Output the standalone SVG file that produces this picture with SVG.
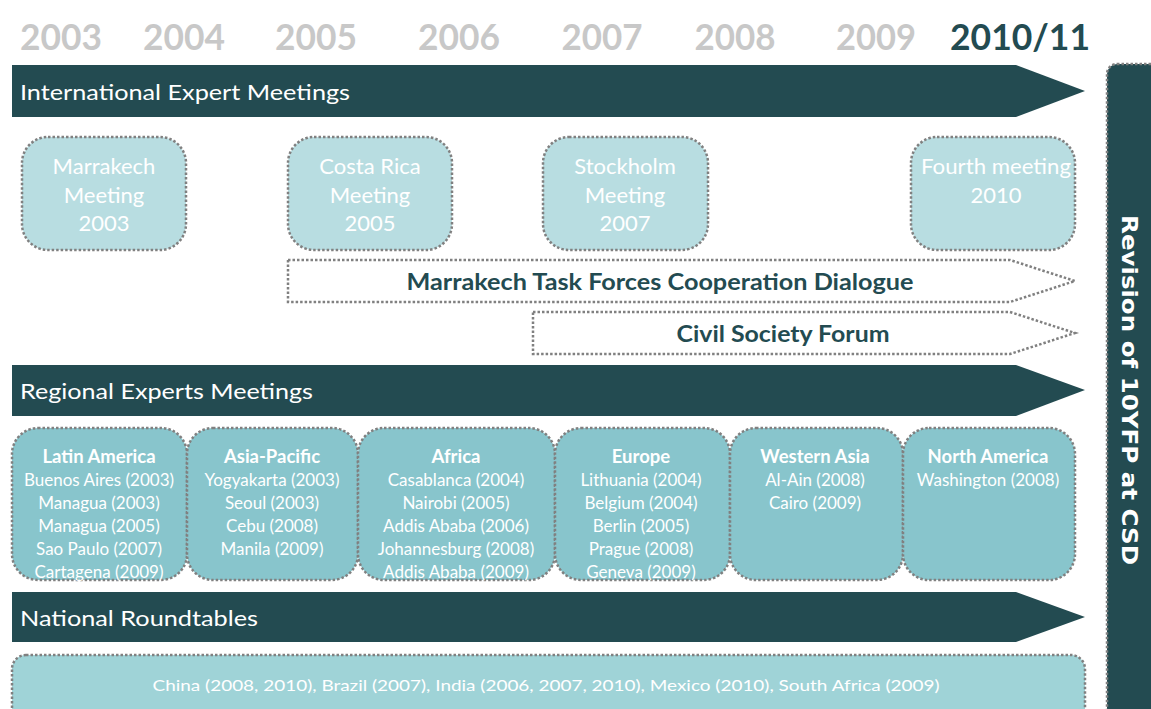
<svg xmlns="http://www.w3.org/2000/svg" width="1151" height="709" viewBox="0 0 1151 709">
<style>
.yr{font-family:Lato,"Liberation Sans",sans-serif;font-weight:bold;font-size:37px;fill:#c8c8c8;text-anchor:middle}
.band{fill:#234b51}
.bandt{font-family:Lato,"Liberation Sans",sans-serif;font-size:22px;fill:#ffffff}
.mbox{fill:#b8dde1;stroke:#808080;stroke-width:2.5;stroke-dasharray:2.5 2}
.mt{font-family:Lato,"Liberation Sans",sans-serif;font-size:22px;fill:#ffffff;text-anchor:middle}
.darr{fill:#ffffff;stroke:#808080;stroke-width:2.5;stroke-dasharray:2.5 2}
.dt{font-family:Lato,"Liberation Sans",sans-serif;font-weight:bold;font-size:22px;fill:#234b51;text-anchor:middle}
.rbox{fill:#88c5cc;stroke:#808080;stroke-width:2.5;stroke-dasharray:2.5 2}
.rh{font-family:Lato,"Liberation Sans",sans-serif;font-weight:bold;font-size:18.5px;fill:#ffffff;text-anchor:middle}
.rt{font-family:Lato,"Liberation Sans",sans-serif;font-size:17px;fill:#ffffff;text-anchor:middle}
.nt{font-family:Lato,"Liberation Sans",sans-serif;font-size:16px;fill:#ffffff;text-anchor:middle}
.nbox{fill:#9fd3d7;stroke:#808080;stroke-width:2.5;stroke-dasharray:2.5 2}
</style>
<rect width="1151" height="709" fill="#ffffff"/>
<g id="years">
<text class="yr" x="61" y="50" textLength="82" lengthAdjust="spacingAndGlyphs">2003</text>
<text class="yr" x="184" y="50" textLength="82" lengthAdjust="spacingAndGlyphs">2004</text>
<text class="yr" x="316" y="50" textLength="82" lengthAdjust="spacingAndGlyphs">2005</text>
<text class="yr" x="459" y="50" textLength="82" lengthAdjust="spacingAndGlyphs">2006</text>
<text class="yr" x="602" y="50" textLength="81" lengthAdjust="spacingAndGlyphs">2007</text>
<text class="yr" x="735" y="50" textLength="81" lengthAdjust="spacingAndGlyphs">2008</text>
<text class="yr" x="876" y="50" textLength="80" lengthAdjust="spacingAndGlyphs">2009</text>
<text class="yr" x="1020" y="50" textLength="140" lengthAdjust="spacingAndGlyphs" style="fill:#234b51">2010/11</text>
</g>
<g id="band-international">
<polygon class="band" points="12,65 1016,65 1085,91 1016,117 12,117"/>
<text class="bandt" x="20" y="100" textLength="330" lengthAdjust="spacingAndGlyphs">International Expert Meetings</text>
</g>
<g id="meeting-marrakech">
<rect class="mbox" x="22" y="137" width="164" height="113" rx="26"/>
<text class="mt" x="104" y="174">Marrakech</text>
<text class="mt" x="104" y="203">Meeting</text>
<text class="mt" x="104" y="231">2003</text>
</g>
<g id="meeting-costarica">
<rect class="mbox" x="288" y="137" width="164" height="113" rx="26"/>
<text class="mt" x="370" y="174">Costa Rica</text>
<text class="mt" x="370" y="203">Meeting</text>
<text class="mt" x="370" y="231">2005</text>
</g>
<g id="meeting-stockholm">
<rect class="mbox" x="543" y="137" width="165" height="113" rx="26"/>
<text class="mt" x="625" y="174">Stockholm</text>
<text class="mt" x="625" y="203">Meeting</text>
<text class="mt" x="625" y="231">2007</text>
</g>
<g id="meeting-fourth">
<rect class="mbox" x="911" y="137" width="164" height="113" rx="26"/>
<text class="mt" x="996" y="174" textLength="150" lengthAdjust="spacingAndGlyphs">Fourth meeting</text>
<text class="mt" x="996" y="203">2010</text>
</g>
<g id="mtf-dialogue">
<polygon class="darr" points="288,260 1010,260 1075,281 1010,302 288,302"/>
<text class="dt" x="660" y="290" textLength="507" lengthAdjust="spacingAndGlyphs">Marrakech Task Forces Cooperation Dialogue</text>
</g>
<g id="civil-society">
<polygon class="darr" points="533,312 1010,312 1075,333 1010,354 533,354"/>
<text class="dt" x="783" y="342" textLength="213" lengthAdjust="spacingAndGlyphs">Civil Society Forum</text>
</g>
<g id="band-regional">
<polygon class="band" points="12,365 1016,365 1085,390 1016,416 12,416"/>
<text class="bandt" x="20" y="399" textLength="293" lengthAdjust="spacingAndGlyphs">Regional Experts Meetings</text>
</g>
<g id="region-latin-america">
<rect class="rbox" x="12" y="428" width="175" height="152" rx="26"/>
<text class="rh" x="99" y="463">Latin America</text>
<text class="rt" x="99" y="486">Buenos Aires (2003)</text>
<text class="rt" x="99" y="509">Managua (2003)</text>
<text class="rt" x="99" y="532">Managua (2005)</text>
<text class="rt" x="99" y="555">Sao Paulo (2007)</text>
<text class="rt" x="99" y="578">Cartagena (2009)</text>
</g>
<g id="region-asia-pacific">
<rect class="rbox" x="187" y="428" width="171" height="152" rx="26"/>
<text class="rh" x="272" y="463">Asia-Pacific</text>
<text class="rt" x="272" y="486">Yogyakarta (2003)</text>
<text class="rt" x="272" y="509">Seoul (2003)</text>
<text class="rt" x="272" y="532">Cebu (2008)</text>
<text class="rt" x="272" y="555">Manila (2009)</text>
</g>
<g id="region-africa">
<rect class="rbox" x="358" y="428" width="197" height="152" rx="26"/>
<text class="rh" x="456" y="463">Africa</text>
<text class="rt" x="456" y="486">Casablanca (2004)</text>
<text class="rt" x="456" y="509">Nairobi (2005)</text>
<text class="rt" x="456" y="532">Addis Ababa (2006)</text>
<text class="rt" x="456" y="555">Johannesburg (2008)</text>
<text class="rt" x="456" y="578">Addis Ababa (2009)</text>
</g>
<g id="region-europe">
<rect class="rbox" x="555" y="428" width="175" height="152" rx="26"/>
<text class="rh" x="641" y="463">Europe</text>
<text class="rt" x="641" y="486">Lithuania (2004)</text>
<text class="rt" x="641" y="509">Belgium (2004)</text>
<text class="rt" x="641" y="532">Berlin (2005)</text>
<text class="rt" x="641" y="555">Prague (2008)</text>
<text class="rt" x="641" y="578">Geneva (2009)</text>
</g>
<g id="region-western-asia">
<rect class="rbox" x="730" y="428" width="173" height="152" rx="26"/>
<text class="rh" x="815" y="463">Western Asia</text>
<text class="rt" x="815" y="486">Al-Ain (2008)</text>
<text class="rt" x="815" y="509">Cairo (2009)</text>
</g>
<g id="region-north-america">
<rect class="rbox" x="903" y="428" width="172" height="152" rx="26"/>
<text class="rh" x="988" y="463">North America</text>
<text class="rt" x="988" y="486">Washington (2008)</text>
</g>
<g id="band-national">
<polygon class="band" points="12,592 1016,592 1085,617 1016,642 12,642"/>
<text class="bandt" x="20" y="626" textLength="238" lengthAdjust="spacingAndGlyphs">National Roundtables</text>
</g>
<g id="national-roundtables">
<rect class="nbox" x="12" y="655" width="1073" height="70" rx="14"/>
<text class="nt" x="546" y="691" textLength="787" lengthAdjust="spacingAndGlyphs">China (2008, 2010), Brazil (2007), India (2006, 2007, 2010), Mexico (2010),  South Africa (2009)</text>
</g>
<g id="revision-csd">
<rect x="1107" y="64" width="60" height="660" rx="10" fill="#234b51" stroke="#808080" stroke-width="2.5" stroke-dasharray="2.5 2"/>
<text x="0" y="0" transform="translate(1122,390) rotate(90)" font-family="'DejaVu Sans',Verdana,sans-serif" font-weight="bold" font-size="22" fill="#ffffff" text-anchor="middle" textLength="350" lengthAdjust="spacingAndGlyphs">Revision of 10YFP at CSD</text>
</g>
<g id="connectors"/>
</svg>
